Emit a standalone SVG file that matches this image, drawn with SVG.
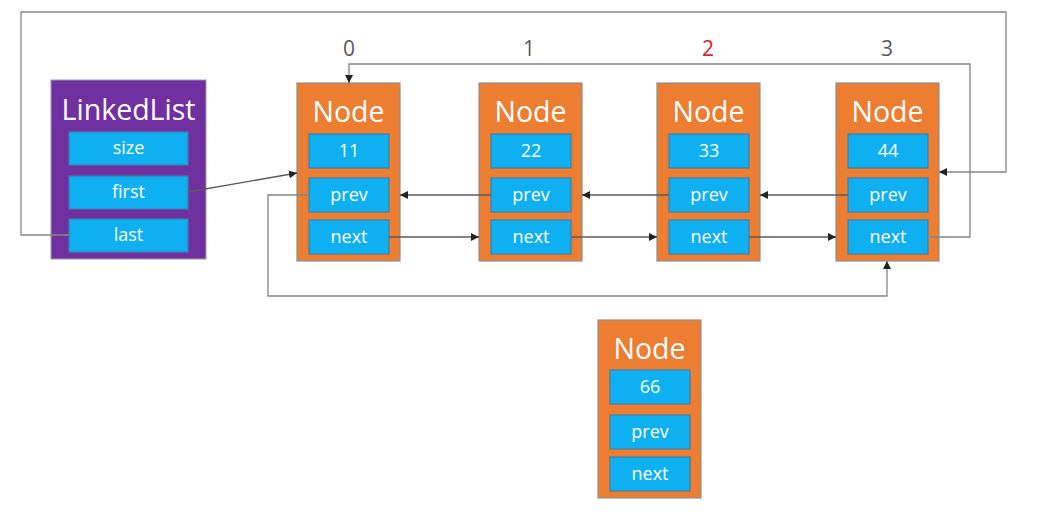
<svg xmlns="http://www.w3.org/2000/svg" width="1059" height="519" viewBox="0 0 1059 519">
<style>
.bg{fill:#ffffff}
.node{fill:#ed7d31;stroke:#8f8f8f;stroke-width:1.2}
.list{fill:#7030a0;stroke:#9a9aa8;stroke-width:1}
.field{fill:#0eb0f2;stroke:#3f7fa8;stroke-width:1.2}
.title{font-family:"Open Sans","Noto Sans",sans-serif;font-size:28.5px;fill:#ffffff;text-anchor:middle}
.ft{font-family:"Open Sans","Noto Sans",sans-serif;font-size:18px;fill:#ffffff;text-anchor:middle}
.idx{font-family:"Open Sans","Noto Sans",sans-serif;font-size:21px;fill:#5a5a5a;text-anchor:middle}
.red{fill:#e02020}
.conn{fill:none;stroke:#5a5a5a;stroke-width:1.3}
.loop{fill:none;stroke:#858585;stroke-width:1.3}
</style>
<defs>
<marker id="ah" viewBox="0 0 10 10" refX="10" refY="5" markerWidth="8" markerHeight="8" markerUnits="userSpaceOnUse" orient="auto">
<path d="M0,0 L10,5 L0,10 z" fill="#222"/>
</marker>
</defs>
<rect class="bg" x="0" y="0" width="1059" height="519"/>

<g id="indices">
<text class="idx" x="349" y="56">0</text>
<text class="idx" x="529" y="56">1</text>
<text class="idx red" x="708" y="56">2</text>
<text class="idx" x="887" y="56">3</text>
</g>

<g id="linkedlist">
<rect class="list" x="51" y="80" width="155" height="179"/>
<text class="title" x="128.5" y="120">LinkedList</text>
<rect class="field" x="69" y="132" width="119" height="33"/>
<text class="ft" x="128.5" y="154">size</text>
<rect class="field" x="69" y="176" width="119" height="33"/>
<text class="ft" x="128.5" y="198">first</text>
<rect class="field" x="69" y="219" width="119" height="33"/>
<text class="ft" x="128.5" y="241">last</text>
</g>

<g id="node0">
<rect class="node" x="297" y="83" width="103" height="178"/>
<text class="title" x="348.5" y="122">Node</text>
<rect class="field" x="309" y="134" width="80" height="34"/>
<text class="ft" x="349" y="157">11</text>
<rect class="field" x="309" y="178" width="80" height="34"/>
<text class="ft" x="349" y="201">prev</text>
<rect class="field" x="309" y="220" width="80" height="34"/>
<text class="ft" x="349" y="243">next</text>
</g>

<g id="node1">
<rect class="node" x="479" y="83" width="103" height="178"/>
<text class="title" x="530.5" y="122">Node</text>
<rect class="field" x="491" y="134" width="80" height="34"/>
<text class="ft" x="531" y="157">22</text>
<rect class="field" x="491" y="178" width="80" height="34"/>
<text class="ft" x="531" y="201">prev</text>
<rect class="field" x="491" y="220" width="80" height="34"/>
<text class="ft" x="531" y="243">next</text>
</g>

<g id="node2">
<rect class="node" x="657" y="83" width="103" height="178"/>
<text class="title" x="708.5" y="122">Node</text>
<rect class="field" x="669" y="134" width="80" height="34"/>
<text class="ft" x="709" y="157">33</text>
<rect class="field" x="669" y="178" width="80" height="34"/>
<text class="ft" x="709" y="201">prev</text>
<rect class="field" x="669" y="220" width="80" height="34"/>
<text class="ft" x="709" y="243">next</text>
</g>

<g id="node3">
<rect class="node" x="836" y="83" width="103" height="178"/>
<text class="title" x="887.5" y="122">Node</text>
<rect class="field" x="848" y="134" width="80" height="34"/>
<text class="ft" x="888" y="157">44</text>
<rect class="field" x="848" y="178" width="80" height="34"/>
<text class="ft" x="888" y="201">prev</text>
<rect class="field" x="848" y="220" width="80" height="34"/>
<text class="ft" x="888" y="243">next</text>
</g>

<g id="node66">
<rect class="node" x="598" y="320" width="103" height="178"/>
<text class="title" x="649.5" y="359">Node</text>
<rect class="field" x="610" y="370" width="80" height="34"/>
<text class="ft" x="650" y="393">66</text>
<rect class="field" x="610" y="415" width="80" height="34"/>
<text class="ft" x="650" y="438">prev</text>
<rect class="field" x="610" y="457" width="80" height="34"/>
<text class="ft" x="650" y="480">next</text>
</g>

<g id="connectors">
<path class="conn" d="M188,192 L297,173" marker-end="url(#ah)"/>
<path class="loop" d="M69,235 H21 V12 H1006 V172 H939" marker-end="url(#ah)"/>
<path class="loop" d="M928,237 H970 V64 H349 V83" marker-end="url(#ah)"/>
<path class="loop" d="M309,195 H268 V296 H887 V261" marker-end="url(#ah)"/>
<path class="conn" d="M491,195 H400" marker-end="url(#ah)"/>
<path class="conn" d="M669,195 H582" marker-end="url(#ah)"/>
<path class="conn" d="M848,195 H760" marker-end="url(#ah)"/>
<path class="conn" d="M389,237 H479" marker-end="url(#ah)"/>
<path class="conn" d="M571,237 H657" marker-end="url(#ah)"/>
<path class="conn" d="M749,237 H836" marker-end="url(#ah)"/>
</g>
</svg>
